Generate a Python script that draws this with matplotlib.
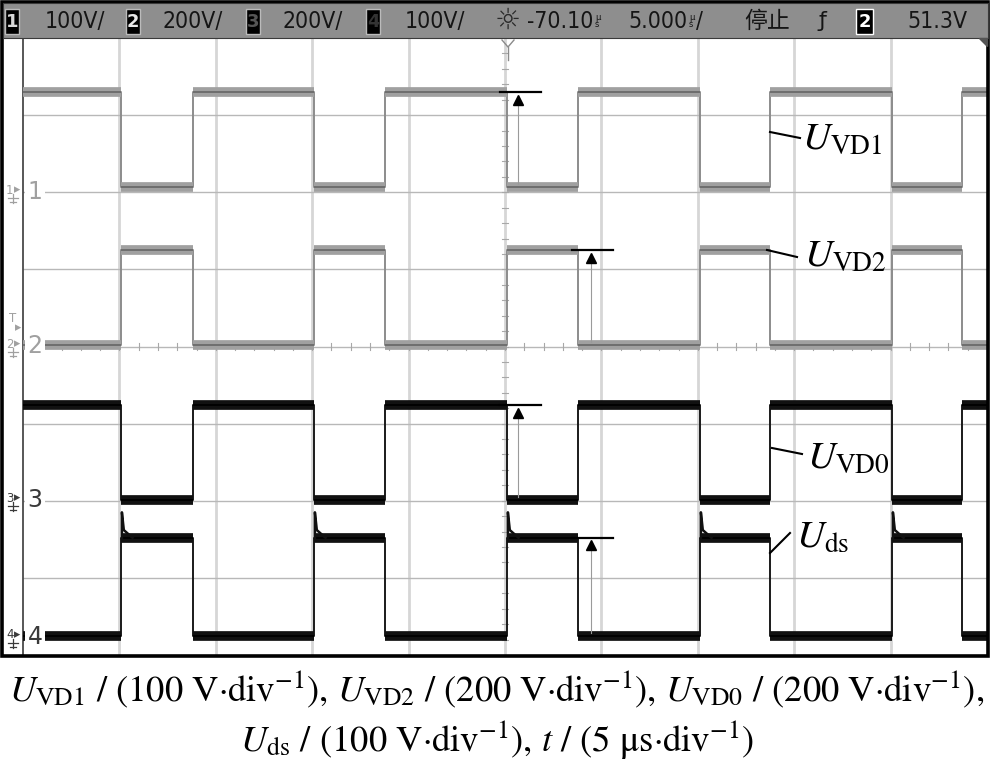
import matplotlib
matplotlib.use('Agg')
import matplotlib.pyplot as plt
from matplotlib.patches import Rectangle, Polygon

plt.rcParams['mathtext.fontset'] = 'stix'

# switching instants of U_VD1 (us); the other three traces switch at the same instants
t_fall = [5.08, 15.09, 25.10, 35.11, 45.07]
t_rise = [8.82, 18.78, 28.79, 38.74, 48.70]

# levels in screen divisions, counted from the bottom of the screen
vd1_hi, vd1_lo = 7.30, 6.07
vd2_hi, vd2_lo = 5.25, 4.02
vd0_hi, vd0_lo = 3.24, 2.01
ds_hi, ds_lo, ds_peak = 1.52, 0.25, 1.85

# measurement cursors (us) for the four traces
meas_t = [25.7, 29.45, 25.7, 29.45]
meas_top = [vd1_hi, vd2_hi, vd0_hi, ds_hi]
meas_bot = [vd1_lo, vd2_lo, vd0_lo, ds_lo]

# header of the scope screen
ch_scale = ['100V/', '200V/', '200V/', '100V/']
t_delay = '-70.10'
t_base = '5.000'
run_state = '停止'
trig_level = '51.3V'

fig = plt.figure(figsize=(10, 7.7), dpi=100)

# screen area: x 23..987 px, y 38..655 px
ax = fig.add_axes([23 / 1000, (770 - 655) / 770, (987 - 23) / 1000, (655 - 38) / 770])
ax.set_xlim(0, 50)
ax.set_ylim(0, 8)
ax.set_xticks([])
ax.set_yticks([])
for s in ['top', 'right', 'bottom']:
    ax.spines[s].set_visible(False)
ax.spines['left'].set_color('#4a4a4a')
ax.spines['left'].set_linewidth(1.3)

# graticule
for i in range(1, 10):
    ax.axvline(i * 5, color='#d6d6d6', lw=2.0, zorder=0)
for j in range(1, 8):
    ax.axhline(j, color='#b8b8b8', lw=1.0, zorder=0)
for k in range(1, 40):
    yy = k * 0.2
    ax.plot([24.85, 25.15], [yy, yy], color='#a8a8a8', lw=0.8, zorder=0)
for k in range(1, 50):
    ax.plot([k, k], [3.95, 4.05], color='#a8a8a8', lw=0.8, zorder=0)


def trace(v_a, v_b):
    # v_a while U_VD1 is high, v_b while it is low
    xs, ys = [0], [v_a]
    for tf, tr in zip(t_fall, t_rise):
        xs += [tf, tf, tr, tr]
        ys += [v_a, v_b, v_b, v_a]
    xs.append(50)
    ys.append(v_a)
    return xs, ys


def draw(v_a, v_b, edge, band, core, z):
    xs, ys = trace(v_a, v_b)
    ax.plot(xs, ys, color=edge, lw=1.4, zorder=z)
    starts = [0] + t_rise
    ends = t_fall + [50]
    ax.hlines([v_a] * len(starts), starts, ends, color=band, lw=7, capstyle='butt', zorder=z)
    ax.hlines([v_b] * len(t_fall), t_fall, t_rise, color=band, lw=7, capstyle='butt', zorder=z)
    ax.hlines([v_a] * len(starts), starts, ends, color=core, lw=1.3, zorder=z)
    ax.hlines([v_b] * len(t_fall), t_fall, t_rise, color=core, lw=1.3, zorder=z)


draw(vd1_hi, vd1_lo, '#8c8c8c', '#a0a0a0', '#6a6a6a', 3)
draw(vd2_lo, vd2_hi, '#8c8c8c', '#a0a0a0', '#6a6a6a', 3)
draw(vd0_hi, vd0_lo, '#1a1a1a', '#111111', '#000000', 4)
draw(ds_lo, ds_hi, '#1a1a1a', '#111111', '#000000', 4)
for tf in t_fall:
    ax.plot([tf + 0.05, tf + 0.05, tf + 0.15, tf + 0.6], [ds_hi, ds_peak, ds_hi + 0.1, ds_hi],
            color='#111111', lw=1.8, zorder=4)

# measurement cursors
for t, top, bot in zip(meas_t, meas_top, meas_bot):
    ax.plot([t - 0.95, t + 1.15], [top, top], color='black', lw=1.6, zorder=6)
    ax.plot([t, t], [top - 0.15, bot + 0.04], color='#9a9a9a', lw=0.8, zorder=5)
    ax.plot([t], [top - 0.1], marker='^', ms=7.5, color='black', zorder=6)

# overlay in pixel coordinates for the frame, header and annotations
ov = fig.add_axes([0, 0, 1, 1])
ov.set_xlim(0, 1000)
ov.set_ylim(770, 0)
ov.axis('off')
ov.patch.set_visible(False)

ov.add_patch(Rectangle((1.5, 1.5), 986.5, 654.5, fill=False, edgecolor='black', lw=2.6))
ov.add_patch(Rectangle((2.5, 3), 985, 34.5, facecolor='#8e8e8e', edgecolor='#3a3a3a', lw=0.8))
ov.add_patch(Polygon([(979, 38), (987, 38), (987, 46)], closed=True, color='#555555'))

hdr_font = 'DejaVu Sans'


def chbox(x, w, label, fg, border):
    ov.add_patch(Rectangle((x, 9), w, 25, facecolor='black', edgecolor=border, lw=1.0))
    ov.text(x + w / 2, 22, label, color=fg, fontsize=13, ha='center', va='center',
            family=hdr_font, fontweight='bold')


hdr = dict(color='#151515', fontsize=16.5, va='center', family=hdr_font, fontstretch='condensed')
box_x = [5, 126, 246, 366]
text_x = [45, 163, 283, 405]
digit_col = ['#d8d8d8', '#e8e8e8', '#555555', '#333333']
for i in range(4):
    chbox(box_x[i], 14, str(i + 1), digit_col[i], '#bbbbbb')
    ov.text(text_x[i], 21, ch_scale[i], **hdr)
ov.text(508, 21, '☼', color='#2a2a2a', fontsize=21, ha='center', va='center', family='DejaVu Sans')
ov.text(593, 21, t_delay, ha='right', **hdr)
ov.text(595, 21, 'µ\ns', color='#151515', fontsize=6, va='center', linespacing=0.75, family='DejaVu Sans')
ov.text(687, 21, t_base, ha='right', **hdr)
ov.text(689, 21, 'µ\ns', color='#151515', fontsize=6, va='center', linespacing=0.75, family='DejaVu Sans')
ov.text(696, 21, '/', **hdr)
ov.text(744, 21, run_state, color='#151515', fontsize=16.5, va='center', family='Noto Sans CJK SC')
ov.text(818, 21, 'ƒ', color='#151515', fontsize=16, va='center', family='DejaVu Sans')
chbox(856, 17, '2', 'white', 'white')
ov.text(907, 21, trig_level, **hdr)

# trigger position marker
ov.plot([502, 508, 514], [40, 47, 40], color='#8a8a8a', lw=1.0)
ov.plot([508, 508], [47, 60], color='#8a8a8a', lw=1.0)

# channel ground markers on the left edge
gnd_y = [192, 346, 500, 637]
gnd_col = ['#a0a0a0', '#a0a0a0', '#3a3a3a', '#3a3a3a']
for i in range(4):
    y = gnd_y[i]
    c = gnd_col[i]
    ov.text(6, y - 2, str(i + 1), color=c, fontsize=8.5, va='center', family='DejaVu Sans')
    ov.text(14, y - 2, '▸', color=c, fontsize=9, va='center', family='DejaVu Sans')
    ov.plot([13, 13], [y + 2, y + 11], color=c, lw=0.9)
    ov.plot([8, 18], [y + 6, y + 6], color=c, lw=0.9)
    ov.plot([10, 16], [y + 10, y + 10], color=c, lw=0.9)
    ov.text(35, y, str(i + 1), color=c, fontsize=17, ha='center', va='center', family='DejaVu Sans',
            bbox=dict(facecolor='white', edgecolor='none', pad=1.5))
ov.text(9, 318, 'T', color='#a0a0a0', fontsize=8.5, va='center', family='DejaVu Sans')
ov.text(15, 328, '▸', color='#a0a0a0', fontsize=9, va='center', family='DejaVu Sans')

# trace labels with leader lines
labels = [r'$U_{\mathrm{VD1}}$', r'$U_{\mathrm{VD2}}$', r'$U_{\mathrm{VD0}}$', r'$U_{\mathrm{ds}}$']
lab_xy = [(802, 150), (804, 267), (807, 468), (796, 548)]
lead = [((770, 132), (800, 138)), ((767, 250), (797, 257)), ((772, 448), (802, 454)), ((770, 553), (790, 533))]
for lab, (lx, ly), (p0, p1) in zip(labels, lab_xy, lead):
    ov.plot([p0[0], p1[0]], [p0[1], p1[1]], color='black', lw=1.5)
    ov.text(lx, ly, lab, fontsize=28, ha='left', va='baseline', color='black')

cap1 = (r'$U_{\mathrm{VD1}}$ / (100 V·div$^{-1}$), $U_{\mathrm{VD2}}$ / (200 V·div$^{-1}$), '
        r'$U_{\mathrm{VD0}}$ / (200 V·div$^{-1}$),')
cap2 = r'$U_{\mathrm{ds}}$ / (100 V·div$^{-1}$), $t$ / (5 μs·div$^{-1}$)'
ov.text(497, 701, cap1, fontsize=26.4, ha='center', va='baseline', family='STIXGeneral')
ov.text(497, 751, cap2, fontsize=26.4, ha='center', va='baseline', family='STIXGeneral')

fig.savefig('out.png', dpi=100)
